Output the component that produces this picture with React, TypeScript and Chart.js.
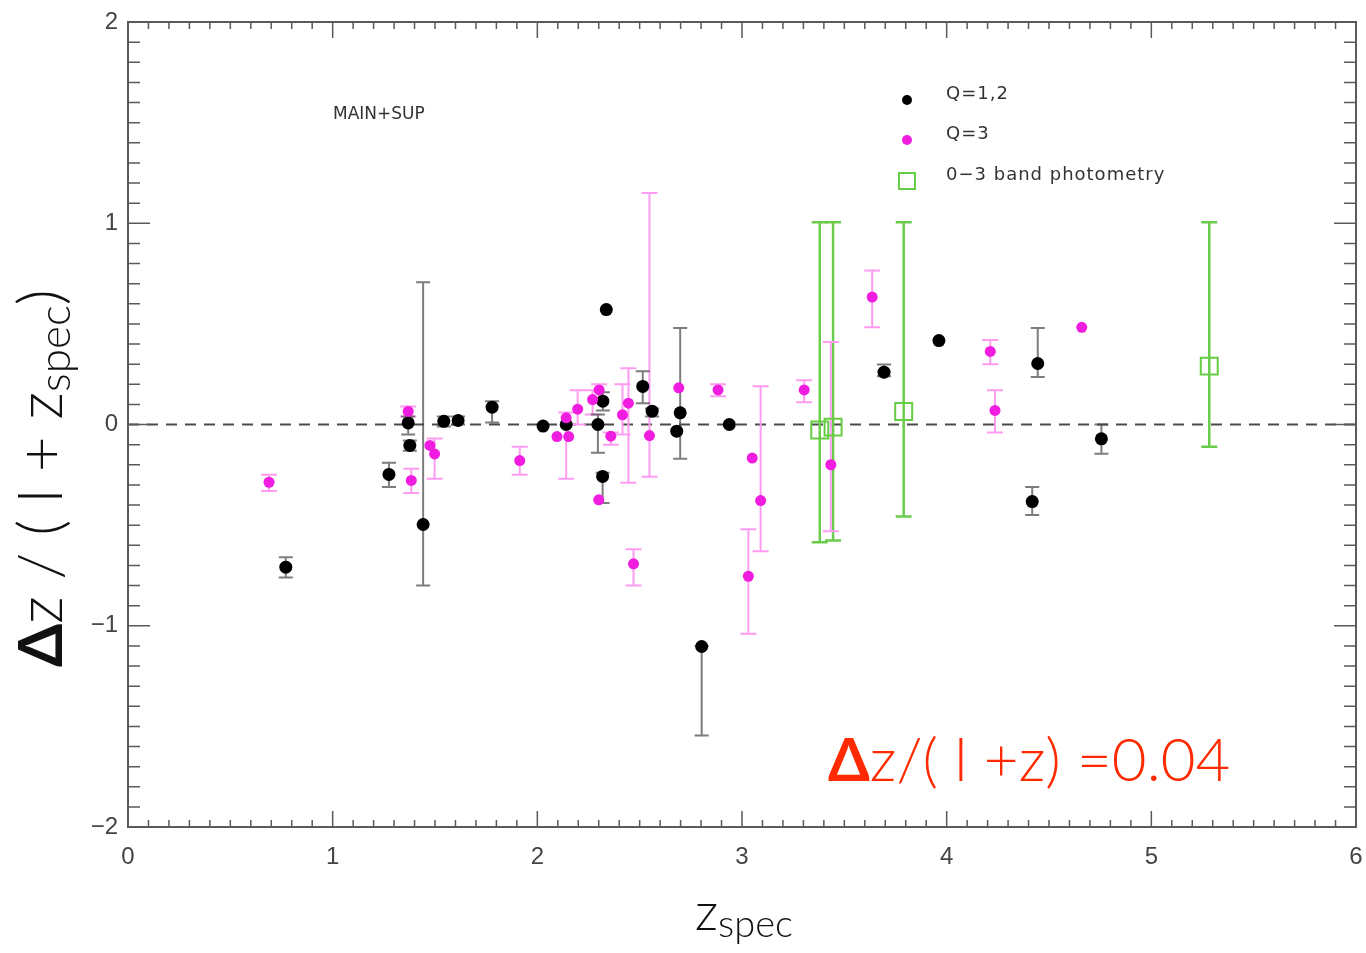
import React, { useEffect, useRef } from 'react';
import { Chart, registerables } from 'chart.js';

Chart.register(...registerables);

// ---- Data ----
// Q=1,2 (black)
const q12X = [0.771, 1.275, 1.369, 1.377, 1.442, 1.543, 1.613, 1.779, 2.028, 2.141, 2.296, 2.32, 2.319, 2.337, 2.515, 2.561, 2.681, 2.698, 2.803, 2.938, 3.694, 3.962, 4.418, 4.445, 4.756];
const q12Y = [-0.709, -0.248, 0.008, -0.104, -0.497, 0.016, 0.02, 0.086, -0.008, 0.0, 0.0, 0.116, -0.258, 0.571, 0.189, 0.066, -0.033, 0.058, -1.103, 0.0, 0.26, 0.417, -0.383, 0.303, -0.071];
const q12Lo = [-0.76, -0.31, -0.05, -0.13, -0.8, -0.01, 0.0, 0.01, null, null, -0.14, 0.07, -0.39, null, 0.106, 0.04, null, -0.17, -1.545, null, 0.24, null, -0.45, 0.236, -0.145];
const q12Hi = [-0.66, -0.19, 0.04, -0.08, 0.707, 0.04, 0.04, 0.116, null, null, 0.05, 0.16, -0.24, null, 0.265, 0.08, null, 0.48, -1.1, null, 0.298, null, -0.31, 0.48, 0.0];

// Q=3 (magenta)
const q3X = [0.689, 1.369, 1.384, 1.475, 1.498, 1.914, 2.096, 2.141, 2.153, 2.197, 2.27, 2.302, 2.30, 2.359, 2.416, 2.445, 2.47, 2.548, 2.691, 2.883, 3.031, 3.05, 3.091, 3.304, 3.434, 3.636, 4.213, 4.236, 4.66];
const q3Y = [-0.287, 0.065, -0.278, -0.104, -0.146, -0.179, -0.06, 0.033, -0.06, 0.076, 0.124, 0.172, -0.374, -0.058, 0.048, 0.106, -0.692, -0.055, 0.182, 0.172, -0.754, -0.167, -0.378, 0.172, -0.2, 0.633, 0.363, 0.07, 0.483];
const q3Lo = [-0.33, 0.04, -0.34, null, -0.27, -0.25, null, -0.27, null, 0.0, 0.05, 0.12, null, -0.1, -0.05, -0.29, -0.8, -0.26, null, 0.14, -1.04, null, -0.63, 0.11, -0.53, 0.483, 0.3, -0.04, null];
const q3Hi = [-0.25, 0.09, -0.22, null, -0.07, -0.11, null, 0.06, null, 0.17, 0.17, 0.2, null, -0.04, 0.2, 0.28, -0.62, 1.15, null, 0.2, -0.52, null, 0.19, 0.22, 0.41, 0.765, 0.42, 0.17, null];

// 0-3 band photometry (green squares)
const bandX = [3.38, 3.445, 3.79, 5.283];
const bandY = [-0.027, -0.013, 0.065, 0.29];
const bandLo = [-0.585, -0.576, -0.457, -0.11];
const bandHi = [1.005, 1.005, 1.005, 1.005];

const xTicks = [0, 1, 2, 3, 4, 5, 6];
const yTicks = [-2, -1, 0, 1, 2];

const legendLabels = ['Q=1,2', 'Q=3', '0\u22123 band photometry'];

const toPts = (xs: number[], ys: number[]) => xs.map((x, i) => ({ x, y: ys[i] }));

const errorBarPlugin = {
  id: 'errorBars',
  beforeDatasetsDraw(chart: any) {
    const { ctx, chartArea, scales } = chart;
    const xs = scales.x, ys = scales.y;
    // dashed zero line
    ctx.save();
    ctx.strokeStyle = '#4a4a4a';
    ctx.lineWidth = 2;
    ctx.setLineDash([11, 8]);
    const y0 = ys.getPixelForValue(0);
    ctx.beginPath();
    ctx.moveTo(chartArea.left, y0);
    ctx.lineTo(chartArea.right, y0);
    ctx.stroke();
    ctx.restore();

    chart.data.datasets.forEach((ds: any) => {
      if (!ds.errLo) return;
      ctx.save();
      ctx.strokeStyle = ds.errColor;
      ctx.lineWidth = ds.errWidth;
      ds.data.forEach((p: any, i: number) => {
        const lo = ds.errLo[i], hi = ds.errHi[i];
        if (lo === null || hi === null) return;
        const px = xs.getPixelForValue(p.x);
        const pl = ys.getPixelForValue(lo);
        const ph = ys.getPixelForValue(hi);
        const c = ds.capHalf;
        ctx.beginPath();
        ctx.moveTo(px, pl); ctx.lineTo(px, ph);
        ctx.moveTo(px - c, pl); ctx.lineTo(px + c, pl);
        ctx.moveTo(px - c, ph); ctx.lineTo(px + c, ph);
        ctx.stroke();
      });
      ctx.restore();
    });
  },
};

const framePlugin = {
  id: 'frameAndText',
  afterDraw(chart: any) {
    const { ctx, chartArea, scales } = chart;
    const { left, right, top, bottom } = chartArea;
    const xs = scales.x, ys = scales.y;
    ctx.save();
    ctx.strokeStyle = '#5a5a5a';
    ctx.lineWidth = 2;
    ctx.strokeRect(left, top, right - left, bottom - top);
    ctx.lineWidth = 1.5;
    ctx.beginPath();
    // x ticks (bottom & top)
    for (let k = 0; k <= 60; k++) {
      const v = k / 10;
      const px = xs.getPixelForValue(v);
      const len = k % 10 === 0 ? 16 : 7;
      ctx.moveTo(px, bottom); ctx.lineTo(px, bottom - len);
      ctx.moveTo(px, top); ctx.lineTo(px, top + len);
    }
    // y ticks (left & right)
    for (let k = -20; k <= 20; k++) {
      const v = k / 10;
      const py = ys.getPixelForValue(v);
      const len = k % 10 === 0 ? 22 : 12;
      ctx.moveTo(left, py); ctx.lineTo(left + len, py);
      ctx.moveTo(right, py); ctx.lineTo(right - len, py);
    }
    ctx.stroke();

    // MAIN+SUP label
    ctx.fillStyle = '#333';
    ctx.font = '17px "DejaVu Sans"';
    ctx.textBaseline = 'middle';
    ctx.textAlign = 'left';
    ctx.fillText('MAIN+SUP', 333, 115);

    // Legend
    const lx = 907;
    const rows = [100, 140, 181];
    ctx.fillStyle = '#000';
    ctx.beginPath(); ctx.arc(lx, rows[0], 5, 0, Math.PI * 2); ctx.fill();
    ctx.fillStyle = '#f01ce0';
    ctx.beginPath(); ctx.arc(lx, rows[1], 5, 0, Math.PI * 2); ctx.fill();
    ctx.strokeStyle = '#66cc44';
    ctx.lineWidth = 2;
    ctx.strokeRect(lx - 8, rows[2] - 8, 16, 16);
    ctx.fillStyle = '#333';
    ctx.font = '18px "DejaVu Sans"';
    (ctx as any).letterSpacing = '1px';
    legendLabels.forEach((t, i) => ctx.fillText(t, 946, rows[i] - 6));
    (ctx as any).letterSpacing = '0px';

    // Red annotation
    ctx.textBaseline = 'alphabetic';
    ctx.fillStyle = '#ff2a00';
    let ax = 828;
    const ay = 781;
    ctx.font = 'bold 60px Lato';
    ctx.fillText('\u0394', ax, ay);
    ax += ctx.measureText('\u0394').width;
    ctx.font = '300 60px Lato';
    ctx.fillText('z/( l +z) =0.04', ax, ay);

    // X axis title: z_spec
    ctx.fillStyle = '#111';
    ctx.font = '300 52px Lato';
    const zW = ctx.measureText('z').width;
    ctx.font = '300 38px Lato';
    const sW = ctx.measureText('spec').width;
    const tx = 744 - (zW + sW) / 2;
    ctx.font = '300 52px Lato';
    ctx.fillText('z', tx, 930);
    ctx.font = '300 38px Lato';
    ctx.fillText('spec', tx + zW, 937);

    // Y axis title (rotated)
    ctx.save();
    ctx.translate(62, 667);
    ctx.rotate(-Math.PI / 2);
    let yx = 0;
    ctx.font = 'bold 62px Lato';
    ctx.fillText('\u0394', yx, 0);
    yx += ctx.measureText('\u0394').width;
    ctx.font = '300 62px Lato';
    const part = 'z / ( l + z';
    ctx.fillText(part, yx, 0);
    yx += ctx.measureText(part).width;
    ctx.font = '300 44px Lato';
    ctx.fillText('spec', yx, 8);
    yx += ctx.measureText('spec').width;
    ctx.font = '300 62px Lato';
    ctx.fillText(')', yx, 0);
    ctx.restore();

    ctx.restore();
  },
};

export default function App() {
  const ref = useRef<HTMLCanvasElement | null>(null);
  useEffect(() => {
    if (!ref.current) return;
    const chart = new Chart(ref.current, {
      type: 'scatter',
      data: {
        datasets: [
          {
            label: legendLabels[2],
            data: toPts(bandX, bandY),
            pointStyle: 'rect',
            pointRadius: 12,
            borderColor: '#66cc44',
            backgroundColor: 'rgba(0,0,0,0)',
            borderWidth: 2,
            errLo: bandLo, errHi: bandHi, errColor: '#6acc4a', errWidth: 2.5, capHalf: 8,
          } as any,
          {
            label: legendLabels[1],
            data: toPts(q3X, q3Y),
            pointStyle: 'circle',
            pointRadius: 5.5,
            borderWidth: 0,
            backgroundColor: '#f01ce0',
            errLo: q3Lo, errHi: q3Hi, errColor: '#ff9cf2', errWidth: 2, capHalf: 8,
          } as any,
          {
            label: legendLabels[0],
            data: toPts(q12X, q12Y),
            pointStyle: 'circle',
            pointRadius: 6.5,
            borderWidth: 0,
            backgroundColor: '#000',
            errLo: q12Lo, errHi: q12Hi, errColor: 'rgba(70,70,70,0.7)', errWidth: 2, capHalf: 7,
          } as any,
        ],
      },
      options: {
        animation: false,
        responsive: false,
        devicePixelRatio: 1,
        layout: { autoPadding: false, padding: { top: 22, right: 10, left: 0, bottom: 0 } },
        plugins: { legend: { display: false }, tooltip: { enabled: false } },
        scales: {
          x: {
            type: 'linear',
            min: 0,
            max: 6,
            afterBuildTicks: (s: any) => { s.ticks = xTicks.map((v) => ({ value: v })); },
            afterFit: (s: any) => { s.height = 126; s.paddingLeft = 0; s.paddingRight = 0; },
            grid: { display: false, drawTicks: false },
            border: { display: false },
            ticks: { color: '#444', font: { family: 'Liberation Sans', size: 24 }, padding: 16 },
          },
          y: {
            type: 'linear',
            min: -2,
            max: 2,
            afterBuildTicks: (s: any) => { s.ticks = yTicks.map((v) => ({ value: v })); },
            afterFit: (s: any) => { s.width = 128; s.paddingTop = 0; s.paddingBottom = 0; },
            grid: { display: false, drawTicks: false },
            border: { display: false },
            ticks: {
              color: '#444',
              font: { family: 'Liberation Sans', size: 24 },
              padding: 10,
              callback: (v: any) => String(v).replace('-', '\u2212'),
            },
          },
        },
      },
      plugins: [errorBarPlugin, framePlugin],
    });
    return () => chart.destroy();
  }, []);
  return (
    <div style={{ position: 'absolute', left: 0, top: 0, width: 1366, height: 953, background: '#fff' }}>
      <canvas ref={ref} width={1366} height={953} style={{ width: 1366, height: 953 }} />
    </div>
  );
}
